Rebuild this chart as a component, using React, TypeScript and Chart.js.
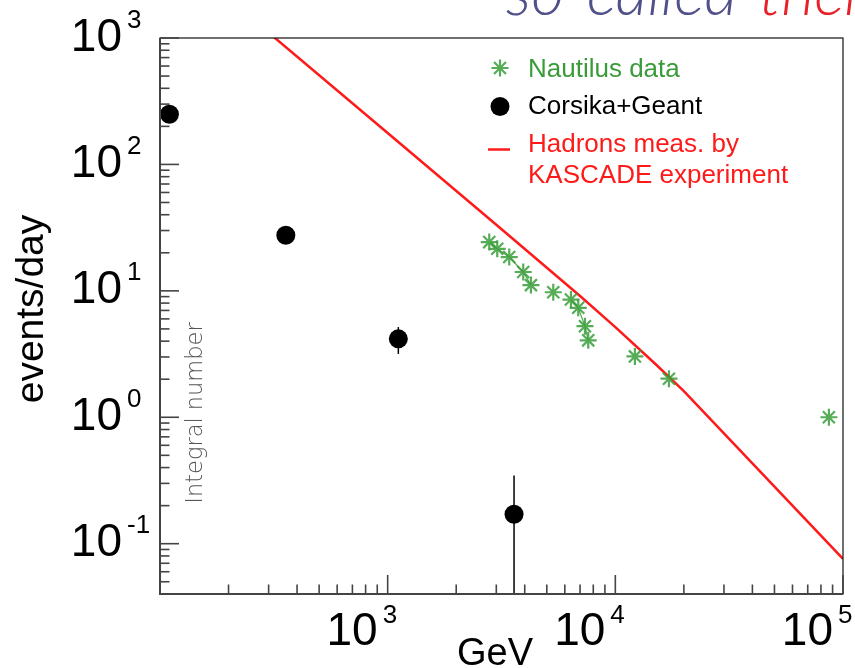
import React, { useEffect, useRef } from "react";
import { Chart, registerables } from "chart.js";

Chart.register(...registerables);

// Corsika+Geant simulation: integral rate above threshold energy
const corsikaEnergyGeV = [110, 357, 1114, 3590];
const corsikaEventsPerDay = [249, 27.5, 4.17, 0.171];
const corsikaErrors = [0, 0, 1.0, 0.175];

// Nautilus measured integral rate
const nautilusEnergyGeV = [2794, 3029, 3420, 3940, 4259, 5338, 6383, 6873, 7355, 7603, 12190, 17200, 86700];
const nautilusEventsPerDay = [24.3, 21.5, 18.5, 14.1, 11.1, 9.75, 8.53, 7.34, 5.25, 4.06, 3.03, 2.02, 1.0];
// consecutive measurements joined by a thin line (first index, last index)
const nautilusRuns = [
  [0, 4],
  [6, 9],
];

// Hadron flux measured by KASCADE, converted to events/day
const kascadeEnergyGeV = [300, 1000, 3000, 7000, 10000, 15000, 20000, 40000, 100000];
const kascadeEventsPerDay = [1103, 177, 33.3, 9.1, 5.17, 2.64, 1.61, 0.431, 0.0759];

// axis ranges and decade labels
const xRange = [100, 1e5];
const yRange = [0.04, 1000];
const xLabelExponents = [3, 4, 5];
const yLabelExponents = [-1, 0, 1, 2, 3];

const xTitle = "GeV";
const yTitle = "events/day";
const yNote = "Integral number";
const headingParts = ["so-called ", "thermal"];
const legendNautilus = "Nautilus data";
const legendCorsika = "Corsika+Geant";
const legendKascade = ["Hadrons meas. by", "KASCADE experiment"];

const GREEN = "rgba(58,158,58,0.85)";
const GREEN_TEXT = "#3b9b3b";
const RED = "#ff1a1a";
const AXIS = "#444";
const SANS = '"Liberation Sans", Arial, sans-serif';

function drawStar(ctx: CanvasRenderingContext2D, x: number, y: number, r: number) {
  ctx.beginPath();
  for (let k = 0; k < 4; k++) {
    const a = (k * Math.PI) / 4;
    ctx.moveTo(x - r * Math.cos(a), y - r * Math.sin(a));
    ctx.lineTo(x + r * Math.cos(a), y + r * Math.sin(a));
  }
  ctx.stroke();
}

function drawPower(
  ctx: CanvasRenderingContext2D,
  exp: number,
  baseRight: number,
  baseY: number,
  expLeft: number,
  expY: number
) {
  ctx.textBaseline = "alphabetic";
  ctx.fillStyle = "#000";
  ctx.font = `46px ${SANS}`;
  ctx.textAlign = "right";
  ctx.fillText("10", baseRight, baseY);
  ctx.font = `26px ${SANS}`;
  ctx.textAlign = "left";
  ctx.fillText(String(exp), expLeft, expY);
}

const rootStylePlugin = {
  id: "rootStyle",
  afterDatasetsDraw(chart: any) {
    const { ctx, chartArea: a, scales } = chart;
    const xs = scales.x;
    const ys = scales.y;
    // vertical error bars on the simulation points
    ctx.save();
    ctx.beginPath();
    ctx.rect(a.left, a.top, a.right - a.left, a.bottom - a.top);
    ctx.clip();
    ctx.strokeStyle = "#000";
    ctx.lineWidth = 1.5;
    corsikaEnergyGeV.forEach((e, i) => {
      const err = corsikaErrors[i];
      if (!err) return;
      const v = corsikaEventsPerDay[i];
      const px = xs.getPixelForValue(e);
      const top = ys.getPixelForValue(v + err);
      const bot = v - err > 0 ? ys.getPixelForValue(v - err) : a.bottom + 5;
      ctx.beginPath();
      ctx.moveTo(px, top);
      ctx.lineTo(px, bot);
      ctx.stroke();
    });
    ctx.restore();
  },
  afterDraw(chart: any) {
    const { ctx, chartArea: a, scales } = chart;
    const xs = scales.x;
    const ys = scales.y;
    ctx.save();

    // frame
    ctx.strokeStyle = "#111";
    ctx.lineWidth = 1.2;
    ctx.strokeRect(a.left, a.top, a.right - a.left, a.bottom - a.top);
    ctx.strokeStyle = AXIS;
    ctx.lineWidth = 2;
    ctx.beginPath();
    ctx.moveTo(a.left, a.top);
    ctx.lineTo(a.left, a.bottom);
    ctx.lineTo(a.right, a.bottom);
    ctx.stroke();

    // inward tick marks, major at each decade, minor at 2..9
    ctx.lineWidth = 1.6;
    const ticks = (scale: any, lo: number, hi: number, horizontal: boolean) => {
      const e0 = Math.floor(Math.log10(lo));
      const e1 = Math.ceil(Math.log10(hi));
      for (let e = e0; e <= e1; e++) {
        for (let m = 1; m <= 9; m++) {
          const v = m * Math.pow(10, e);
          if (v < lo * 0.999 || v > hi * 1.001) continue;
          const p = scale.getPixelForValue(v);
          const len = m === 1 ? 19 : 9.5;
          ctx.beginPath();
          if (horizontal) {
            ctx.moveTo(p, a.bottom);
            ctx.lineTo(p, a.bottom - len);
          } else {
            ctx.moveTo(a.left, p);
            ctx.lineTo(a.left + len, p);
          }
          ctx.stroke();
        }
      }
    };
    ticks(xs, xRange[0], xRange[1], true);
    ticks(ys, yRange[0], yRange[1], false);

    // decade labels
    xLabelExponents.forEach((e) => {
      const p = xs.getPixelForValue(Math.pow(10, e));
      drawPower(ctx, e, p - 10, a.bottom + 51, p - 5, a.bottom + 29);
    });
    yLabelExponents.forEach((e) => {
      const p = ys.getPixelForValue(Math.pow(10, e));
      drawPower(ctx, e, a.left - 38, p + 12.5, a.left - 33, p - 10.5);
    });

    // axis titles
    ctx.fillStyle = "#000";
    ctx.font = `38px ${SANS}`;
    ctx.textAlign = "center";
    ctx.fillText(xTitle, a.left + 335, a.bottom + 71);

    ctx.save();
    ctx.translate(a.left - 117, a.top + 271);
    ctx.rotate(-Math.PI / 2);
    ctx.font = `39px ${SANS}`;
    ctx.fillText(yTitle, 0, 0);
    ctx.restore();

    ctx.save();
    ctx.translate(a.left + 42, a.top + 375);
    ctx.rotate(-Math.PI / 2);
    ctx.font = '200 22.5px "DejaVu Sans", sans-serif';
    ctx.fillStyle = "#555";
    ctx.fillText(yNote, 0, 0);
    ctx.restore();

    // legend
    ctx.textAlign = "left";
    ctx.font = `26px ${SANS}`;
    const lx = a.left + 340;
    const tx = a.left + 368;
    ctx.strokeStyle = GREEN;
    ctx.lineWidth = 2.2;
    drawStar(ctx, lx, a.top + 30, 8.5);
    ctx.fillStyle = GREEN_TEXT;
    ctx.fillText(legendNautilus, tx, a.top + 38.5);

    ctx.fillStyle = "#000";
    ctx.beginPath();
    ctx.arc(lx, a.top + 68.5, 9.5, 0, Math.PI * 2);
    ctx.fill();
    ctx.fillText(legendCorsika, tx, a.top + 76);

    ctx.strokeStyle = RED;
    ctx.lineWidth = 2.5;
    ctx.beginPath();
    ctx.moveTo(lx - 12, a.top + 111.5);
    ctx.lineTo(lx + 10, a.top + 111.5);
    ctx.stroke();
    ctx.fillStyle = RED;
    ctx.fillText(legendKascade[0], tx, a.top + 113.5);
    ctx.fillText(legendKascade[1], tx, a.top + 144.5);

    // slide heading running off the top edge
    ctx.font = 'italic 300 64px Lato, "Open Sans", sans-serif';
    ctx.fillStyle = "#50508a";
    const hx = a.left + 346;
    const hy = a.top - 23;
    ctx.fillText(headingParts[0], hx, hy);
    const w = ctx.measureText(headingParts[0]).width;
    ctx.fillStyle = "#e8202a";
    ctx.fillText(headingParts[1], hx + w + 6, hy);

    ctx.restore();
  },
};

export default function App() {
  const canvasRef = useRef<HTMLCanvasElement | null>(null);

  useEffect(() => {
    const canvas = canvasRef.current;
    if (!canvas) return;
    const inRun = (i0: number, i1: number) =>
      nautilusRuns.some(([s, e]) => i0 >= s && i1 <= e);

    const chart = new Chart(canvas, {
      type: "scatter",
      data: {
        datasets: [
          {
            label: legendCorsika,
            data: corsikaEnergyGeV.map((x, i) => ({ x, y: corsikaEventsPerDay[i] })),
            pointStyle: "circle",
            pointRadius: 9.5,
            backgroundColor: "#000",
            borderWidth: 0,
            order: 1,
          },
          {
            label: legendNautilus,
            data: nautilusEnergyGeV.map((x, i) => ({ x, y: nautilusEventsPerDay[i] })),
            showLine: true,
            pointStyle: "star",
            pointRadius: 8.5,
            pointBorderWidth: 2.2,
            pointBorderColor: GREEN,
            pointBackgroundColor: GREEN,
            borderWidth: 1.2,
            borderColor: GREEN,
            segment: {
              borderColor: (c: any) => (inRun(c.p0DataIndex, c.p1DataIndex) ? GREEN : "rgba(0,0,0,0)"),
            },
            order: 2,
          },
          {
            label: legendKascade.join(" "),
            data: kascadeEnergyGeV.map((x, i) => ({ x, y: kascadeEventsPerDay[i] })),
            showLine: true,
            pointRadius: 0,
            borderColor: RED,
            borderWidth: 2.5,
            tension: 0,
            order: 3,
          },
        ],
      },
      options: {
        responsive: false,
        animation: false,
        events: [],
        layout: { padding: { left: 160, top: 38, right: 12, bottom: 74 } },
        plugins: { legend: { display: false }, tooltip: { enabled: false } },
        scales: {
          x: { type: "logarithmic", min: xRange[0], max: xRange[1], display: false },
          y: { type: "logarithmic", min: yRange[0], max: yRange[1], display: false },
        },
      },
      plugins: [rootStylePlugin],
    });
    return () => chart.destroy();
  }, []);

  return (
    <div style={{ position: "fixed", left: 0, top: 0, width: 855, height: 668, background: "#fff" }}>
      <canvas ref={canvasRef} width={855} height={668} />
    </div>
  );
}
